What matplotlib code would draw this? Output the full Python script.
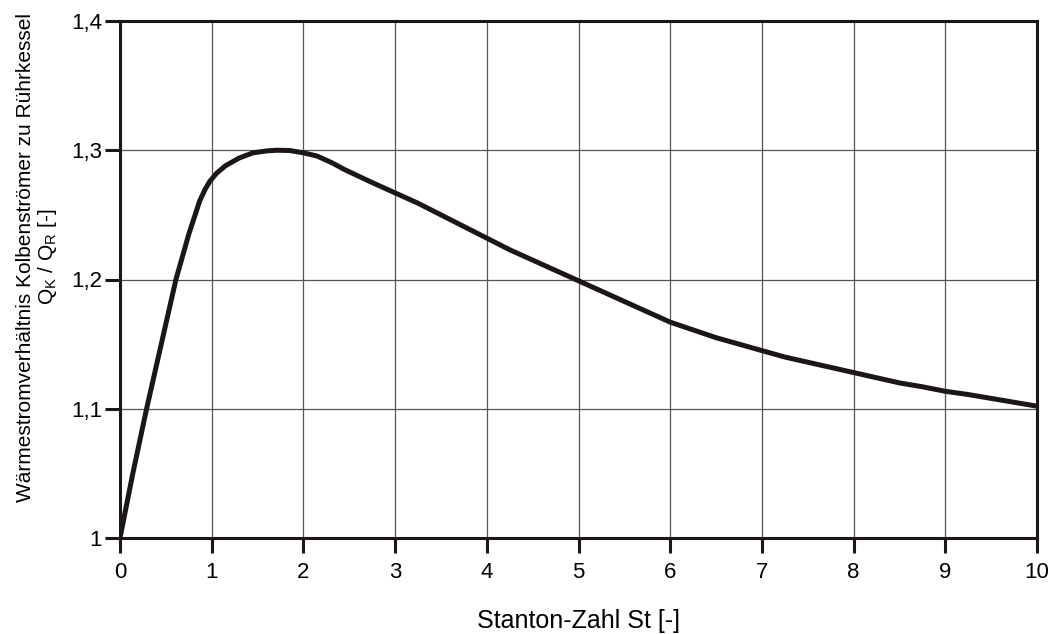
import numpy as np
import matplotlib
matplotlib.use("Agg")
import matplotlib.pyplot as plt

# -------- DATA --------
st = [0, 0.14, 0.29, 0.45, 0.61, 0.75, 0.87, 0.93, 0.98, 1.05, 1.15, 1.3, 1.45, 1.6, 1.71,
      1.85, 2.0, 2.15, 2.32, 2.45, 2.6, 2.75, 3.0, 3.25, 3.5, 3.75, 4.0, 4.25, 4.5, 4.75,
      5.0, 5.25, 5.5, 5.75, 6.0, 6.25, 6.5, 6.75, 7.0, 7.25, 7.5, 7.75,
      8.0, 8.25, 8.5, 8.75, 9.0, 9.25, 9.5, 9.75, 10.0]
ratio = [1.0, 1.05, 1.1, 1.15, 1.2, 1.235, 1.261, 1.270, 1.276, 1.282, 1.288, 1.294, 1.298, 1.2995, 1.300,
         1.2998, 1.298, 1.2955, 1.290, 1.285, 1.280, 1.275, 1.267, 1.259, 1.250, 1.241, 1.232, 1.223, 1.215, 1.207,
         1.199, 1.191, 1.183, 1.175, 1.167, 1.161, 1.155, 1.150, 1.145, 1.140, 1.136, 1.132,
         1.128, 1.124, 1.120, 1.117, 1.1135, 1.111, 1.108, 1.105, 1.102]

x_ticks = [0, 1, 2, 3, 4, 5, 6, 7, 8, 9, 10]
y_ticks = [1.0, 1.1, 1.2, 1.3, 1.4]
y_tick_labels = ["1", "1,1", "1,2", "1,3", "1,4"]

# -------- PLOTTING --------
plt.rcParams["font.family"] = ["Liberation Sans", "DejaVu Sans"]
plt.rcParams["mathtext.fontset"] = "custom"
plt.rcParams["mathtext.rm"] = "Liberation Sans"

fig = plt.figure(figsize=(10.58, 6.34), dpi=100)
ax = fig.add_axes([120 / 1058, 1 - 538 / 634, (1037 - 120) / 1058, (538 - 21) / 634])

ax.plot(st, ratio, color="#1c1616", lw=3.6, solid_joinstyle="round", zorder=3)

ax.set_xlim(0, 10)
ax.set_ylim(1.0, 1.4)
ax.set_xticks(x_ticks)
ax.set_yticks(y_ticks)
ax.set_yticklabels(y_tick_labels)

ax.grid(True, color="#555555", lw=0.9)
for s in ax.spines.values():
    s.set_linewidth(2.2)
    s.set_color("#1c1616")
ax.tick_params(direction="out", length=11, width=2.2, color="#1c1616",
               labelsize=16)
ax.tick_params(axis="x", pad=6)
ax.tick_params(axis="y", pad=2)

ax.set_xlabel("Stanton-Zahl St [-]", fontsize=18)
ax.xaxis.set_label_coords(0.5, -0.138)
ax.set_ylabel("Wärmestromverhältnis Kolbenströmer zu Rührkessel\n"
              r"$\mathregular{Q_K}$ / $\mathregular{Q_R}$ [-]", fontsize=15,
              linespacing=1.05)
ax.yaxis.set_label_coords(-0.0665, 0.543)

fig.savefig("out.png", dpi=100)
